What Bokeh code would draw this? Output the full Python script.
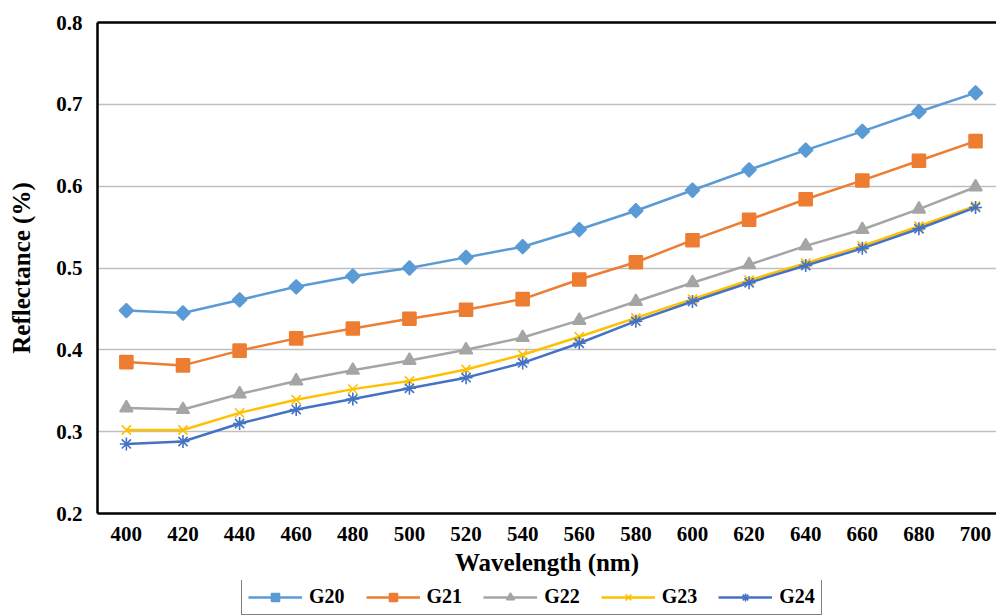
import math
from bokeh.plotting import figure
from bokeh.layouts import column
from bokeh.models import Range1d, FixedTicker, LinearAxis, Legend, LegendItem
from bokeh.embed import file_html
from bokeh.resources import INLINE

wavelength = [400, 420, 440, 460, 480, 500, 520, 540, 560, 580, 600, 620, 640, 660, 680, 700]
g20 = [0.448, 0.445, 0.461, 0.477, 0.490, 0.500, 0.513, 0.526, 0.547, 0.570, 0.595, 0.620, 0.644, 0.667, 0.691, 0.714]
g21 = [0.385, 0.381, 0.399, 0.414, 0.426, 0.438, 0.449, 0.462, 0.486, 0.507, 0.534, 0.559, 0.584, 0.607, 0.631, 0.655]
g22 = [0.329, 0.327, 0.346, 0.362, 0.375, 0.387, 0.400, 0.415, 0.436, 0.459, 0.482, 0.504, 0.527, 0.547, 0.572, 0.599]
g23 = [0.302, 0.302, 0.323, 0.339, 0.352, 0.362, 0.376, 0.394, 0.416, 0.439, 0.462, 0.485, 0.506, 0.527, 0.551, 0.576]
g24 = [0.285, 0.288, 0.310, 0.327, 0.340, 0.353, 0.366, 0.384, 0.408, 0.435, 0.459, 0.482, 0.503, 0.524, 0.548, 0.574]
y_ticks = [0.2, 0.3, 0.4, 0.5, 0.6, 0.7, 0.8]

series = [
    ("G20", g20, "#5B9BD5", "square", 10, math.pi / 4),
    ("G21", g21, "#ED7D31", "square", 13, 0.0),
    ("G22", g22, "#A5A5A5", "triangle", 13, 0.0),
    ("G23", g23, "#FFC000", "x", 13, 0.0),
    ("G24", g24, "#4472C4", "asterisk", 13, 0.0),
]

FONT = "Liberation Serif"

p = figure(width=996, height=580, output_backend="svg", toolbar_location=None,
           x_range=Range1d(389.8, 707.4), y_range=Range1d(0.2, 0.8),
           min_border_left=97, min_border_top=22, min_border_right=0, min_border_bottom=67,
           background_fill_color="white", border_fill_color="white")
p.outline_line_color = None

for name, vals, color, marker, size, ang in series:
    p.line(wavelength, vals, line_color=color, line_width=2.5)
    p.scatter(wavelength, vals, marker=marker, size=size, angle=ang, fill_color=color,
              line_color=color, line_width=1.6)

# axes
xa = p.xaxis[0]
xa.ticker = FixedTicker(ticks=wavelength)
xa.axis_label = "Wavelength (nm)"
ya = p.yaxis[0]
ya.ticker = FixedTicker(ticks=y_ticks)
ya.axis_label = "Reflectance (%)"
for ax in (xa, ya):
    ax.axis_line_color = "black"
    ax.axis_line_width = 2.5
    ax.major_tick_line_color = None
    ax.minor_tick_line_color = None
    ax.major_tick_out = 0
    ax.major_tick_in = 0
    ax.major_label_text_font = FONT
    ax.major_label_text_font_style = "bold"
    ax.major_label_text_font_size = "21px"
    ax.major_label_text_color = "black"
    ax.axis_label_text_font = FONT
    ax.axis_label_text_font_style = "bold"
    ax.axis_label_text_font_size = "25px"
    ax.axis_label_text_color = "black"
xa.major_label_standoff = 13
xa.axis_label_standoff = 5
ya.major_label_standoff = 15
ya.axis_label_standoff = 18

top = LinearAxis(major_label_text_font_size="0px", major_tick_line_color=None,
                 minor_tick_line_color=None, major_tick_out=0, minor_tick_out=0,
                 major_label_standoff=0, axis_line_color="black", axis_line_width=2.5,
                 ticker=FixedTicker(ticks=[]))
p.add_layout(top, "above")

p.xgrid.visible = False
p.ygrid.grid_line_color = "#BFBFBF"
p.ygrid.grid_line_width = 1.5

# legend strip below the chart (its renderers lie outside its visible range)
lg = figure(width=996, height=35, output_backend="svg", toolbar_location=None,
            x_axis_type=None, y_axis_type=None,
            x_range=Range1d(0, 1), y_range=Range1d(0, 1),
            min_border_left=0, min_border_right=0, min_border_top=0, min_border_bottom=0,
            background_fill_color="white", border_fill_color="white")
lg.outline_line_color = None
items = []
for name, vals, color, marker, size, ang in series:
    r1 = lg.line(wavelength, vals, line_color=color, line_width=2.5)
    r2 = lg.scatter(wavelength, vals, marker=marker, size=size, angle=ang, fill_color=color,
                    line_color=color, line_width=1.6)
    items.append(LegendItem(label=name, renderers=[r1, r2]))

legend = Legend(items=items, orientation="horizontal", location=(144, 0),
                border_line_color="black", border_line_width=1.5,
                label_text_font=FONT, label_text_font_style="bold",
                label_text_font_size="20px", label_text_color="black", label_standoff=7,
                glyph_width=54, glyph_height=20, spacing=21,
                padding=6, margin=0, background_fill_alpha=1)
lg.add_layout(legend, "center")

layout = column(p, lg, spacing=0)
open("out.html", "w").write(file_html(layout, INLINE))
